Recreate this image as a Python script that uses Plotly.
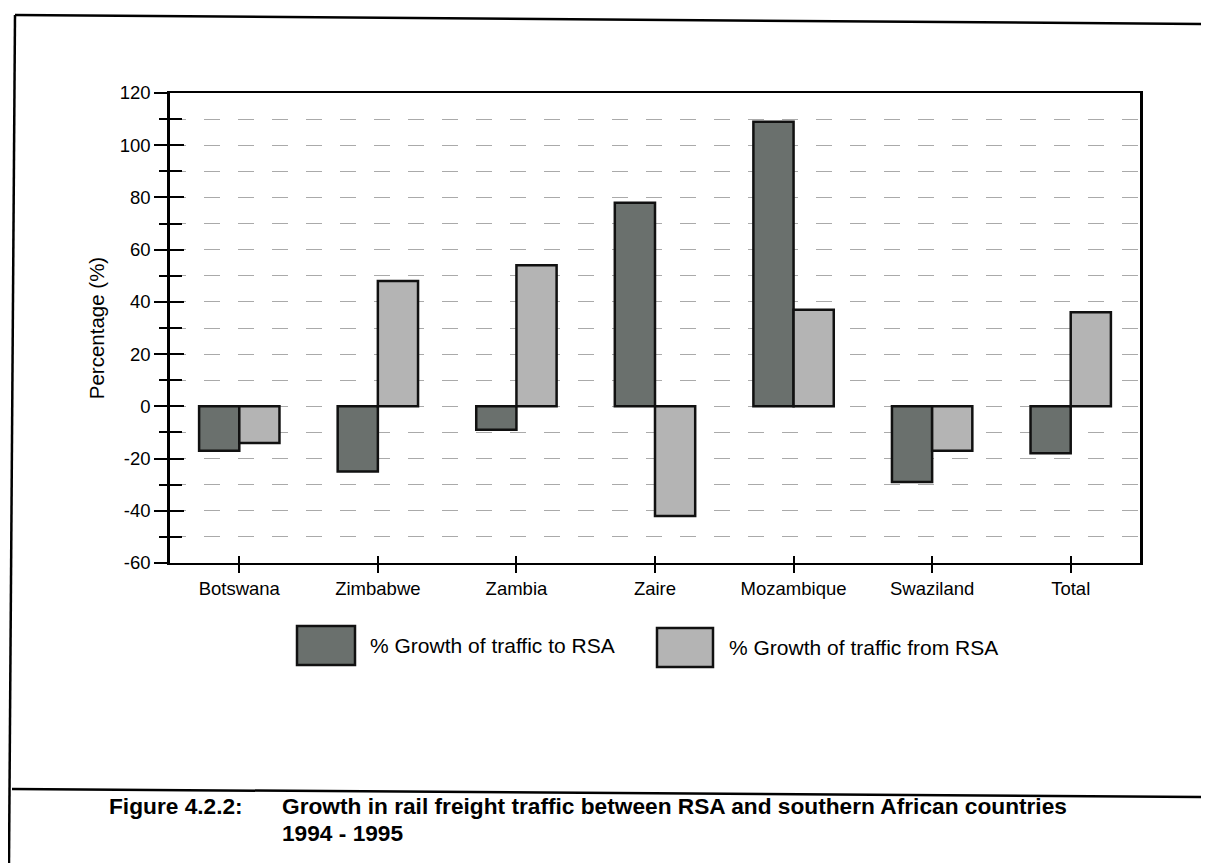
import plotly.graph_objects as go

categories = ["Botswana", "Zimbabwe", "Zambia", "Zaire", "Mozambique", "Swaziland", "Total"]
to_rsa = [-17, -25, -9, 78, 109, -29, -18]
from_rsa = [-14, 48, 54, -42, 37, -17, 36]
series_names = ["% Growth of traffic to RSA", "% Growth of traffic from RSA"]
series_colors = ["#6a706d", "#b4b4b4"]
y_ticks = [-60, -40, -20, 0, 20, 40, 60, 80, 100, 120]

OFF = 8  # page body margin
W, H = 1209 - OFF, 863 - OFF
L, R, T, B = 170 - OFF, 1140 - OFF, 93 - OFF, 563 - OFF

def px(x):
    return (x - OFF - L) / (R - L)

def py(y):
    return (B - (y - OFF)) / (B - T)

fig = go.Figure()
for name, vals, col in zip(series_names, [to_rsa, from_rsa], series_colors):
    fig.add_trace(go.Bar(
        x=categories, y=vals, name=name,
        marker=dict(color=col, line=dict(color="#111111", width=2.5)),
        showlegend=False,
    ))
# invisible companion trace so the overlay axes (inner tick marks) are drawn
fig.add_trace(go.Scatter(x=categories, y=to_rsa, xaxis="x2", yaxis="y2",
                         mode="none", showlegend=False, hoverinfo="skip"))

grid_style = dict(gridcolor="#aaaaaa", griddash="16px,18px", gridwidth=1)

fig.update_layout(
    width=W, height=H,
    margin=dict(l=L, r=W - R, t=T, b=H - B),
    paper_bgcolor="white", plot_bgcolor="white",
    barmode="group", bargap=0.42, bargroupgap=0,
    font=dict(family="Liberation Sans, Arial, sans-serif", color="black"),
    xaxis=dict(
        showline=True, linecolor="black", linewidth=2, mirror=True,
        ticks="outside", ticklen=8, tickwidth=1.5, tickcolor="black",
        tickfont=dict(size=18.5), showgrid=False,
    ),
    xaxis2=dict(
        overlaying="x", side="bottom", matches="x", showticklabels=False,
        ticks="inside", ticklen=7, tickwidth=1.5, tickcolor="black",
        showgrid=False, showline=False, zeroline=False,
    ),
    yaxis=dict(
        range=[-60, 120], tickvals=y_ticks, ticktext=[str(v) for v in y_ticks],
        showline=True, linecolor="black", linewidth=2.5, mirror=True,
        ticks="outside", ticklen=13, tickwidth=2, tickcolor="black",
        tickfont=dict(size=18.5),
        showgrid=True, zeroline=False, **grid_style,
        minor=dict(dtick=10, ticks="outside", ticklen=8, tickwidth=2,
                   tickcolor="black", showgrid=True, **grid_style),
        title=dict(text="Percentage (%)", font=dict(size=20.5), standoff=10),
    ),
    yaxis2=dict(
        range=[-60, 120], overlaying="y", side="left", tickvals=y_ticks,
        showticklabels=False, ticks="inside", ticklen=14, tickwidth=2,
        tickcolor="black", showgrid=False, zeroline=False, showline=False,
        minor=dict(dtick=10, ticks="inside", ticklen=12, tickwidth=2, tickcolor="black"),
    ),
)

shapes = []
annotations = []
legend_boxes = [(297, 355, 626, 665, 368), (657, 713, 628, 667, 727)]
for (x0, x1, y0, y1, tx), name, col in zip(legend_boxes, series_names, series_colors):
    shapes.append(dict(type="rect", xref="paper", yref="paper",
                       x0=px(x0), x1=px(x1), y0=py(y1), y1=py(y0),
                       fillcolor=col, line=dict(color="#111111", width=2.5)))
    annotations.append(dict(xref="paper", yref="paper", x=px(tx), y=py((y0 + y1) / 2),
                            text=name, showarrow=False, xanchor="left", yanchor="middle",
                            font=dict(size=21, color="black")))

frame = [((15, 15), (1209, 24)), ((15, 15), (9, 863)), ((12, 789), (1209, 797))]
for (x0, y0), (x1, y1) in frame:
    shapes.append(dict(type="line", xref="paper", yref="paper",
                       x0=px(x0), y0=py(y0), x1=px(x1), y1=py(y1),
                       line=dict(color="black", width=2.5)))

cap_font = dict(family="Liberation Sans Narrow, Arial Narrow, Liberation Sans, Arial", size=22.7, color="black")
annotations.append(dict(xref="paper", yref="paper", x=px(107), y=py(806),
                        text="<b>Figure 4.2.2:</b>", showarrow=False,
                        xanchor="left", yanchor="middle", font=cap_font))
annotations.append(dict(xref="paper", yref="paper", x=px(280), y=py(806),
                        text="<b>Growth in rail freight traffic between RSA and southern African countries</b>",
                        showarrow=False, xanchor="left", yanchor="middle", font=cap_font))
annotations.append(dict(xref="paper", yref="paper", x=px(280), y=py(833),
                        text="<b>1994 - 1995</b>", showarrow=False,
                        xanchor="left", yanchor="middle", font=cap_font))

fig.update_layout(shapes=shapes, annotations=annotations)
fig.write_html("out.html")
